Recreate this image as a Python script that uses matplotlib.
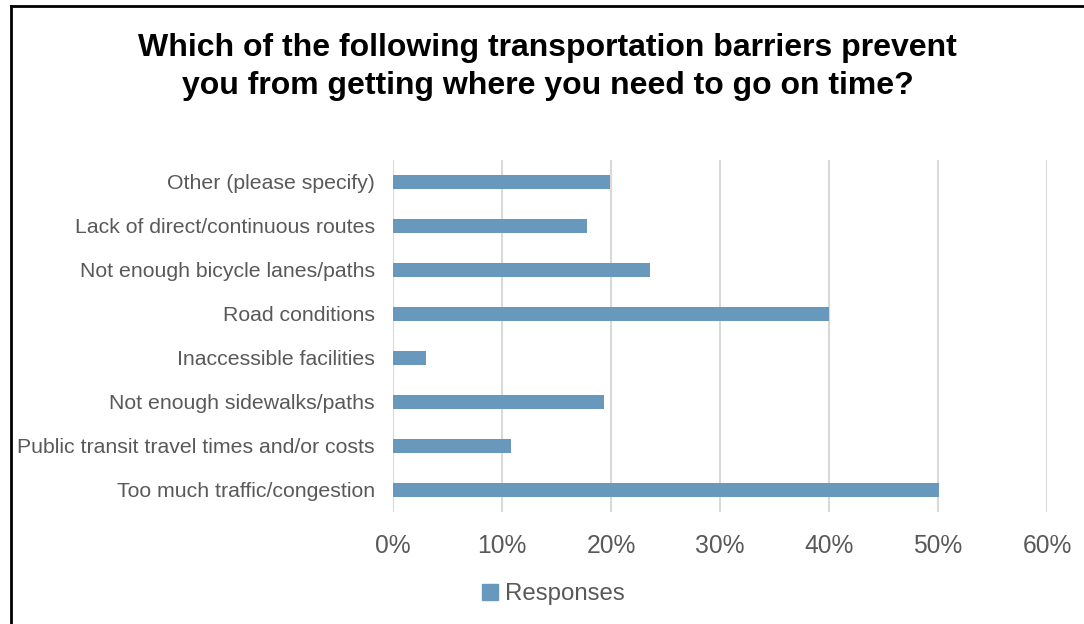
import matplotlib.pyplot as plt
from matplotlib.lines import Line2D
from matplotlib.patches import Patch
from matplotlib.ticker import PercentFormatter

plt.rcParams['font.family'] = ['Liberation Sans', 'DejaVu Sans']

# bottom to top
categories = [
    "Too much traffic/congestion",
    "Public transit travel times and/or costs",
    "Not enough sidewalks/paths",
    "Inaccessible facilities",
    "Road conditions",
    "Not enough bicycle lanes/paths",
    "Lack of direct/continuous routes",
    "Other (please specify)",
]
responses = [50.1, 10.8, 19.4, 3.0, 40.0, 23.6, 17.8, 19.9]
x_ticks = [0, 10, 20, 30, 40, 50, 60]

bar_color = "#6899bc"
grey = "#595959"

fig = plt.figure(figsize=(10.84, 6.24), dpi=100)
ax = fig.add_axes([0.3625, 0.1795, 0.6034, 0.5641])

ax.barh(range(len(categories)), responses, height=0.3, color=bar_color, zorder=3)
ax.set_yticks(range(len(categories)))
ax.set_yticklabels(categories, fontsize=15.3, color=grey)
ax.set_ylim(-0.5, len(categories) - 0.5)
ax.set_xlim(0, 60)
ax.set_xticks(x_ticks)
ax.xaxis.set_major_formatter(PercentFormatter(decimals=0))
ax.tick_params(axis='x', labelsize=17.7, colors=grey, length=0, pad=16)
ax.tick_params(axis='y', length=0, pad=13)
ax.grid(axis='x', color='#d9d9d9', linewidth=1.5, zorder=0)
for s in ax.spines.values():
    s.set_visible(False)

fig.text(0.505, 0.892, "Which of the following transportation barriers prevent\nyou from getting where you need to go on time?",
         ha='center', va='center', fontsize=23, fontweight='bold', linespacing=1.34)

fig.legend(handles=[Patch(color=bar_color, label="Responses")], loc='center',
           bbox_to_anchor=(0.5105, 0.048), frameon=False, fontsize=17.3,
           labelcolor=grey, handlelength=0.65, handleheight=0.65, handletextpad=0.3)

# outer border (top and left visible)
fig.add_artist(Line2D([11 / 1084, 11 / 1084], [0, 1 - 6 / 624], transform=fig.transFigure, color='black', linewidth=2))
fig.add_artist(Line2D([11 / 1084, 1], [1 - 6 / 624, 1 - 6 / 624], transform=fig.transFigure, color='black', linewidth=2))

fig.savefig("out.png", dpi=100)
